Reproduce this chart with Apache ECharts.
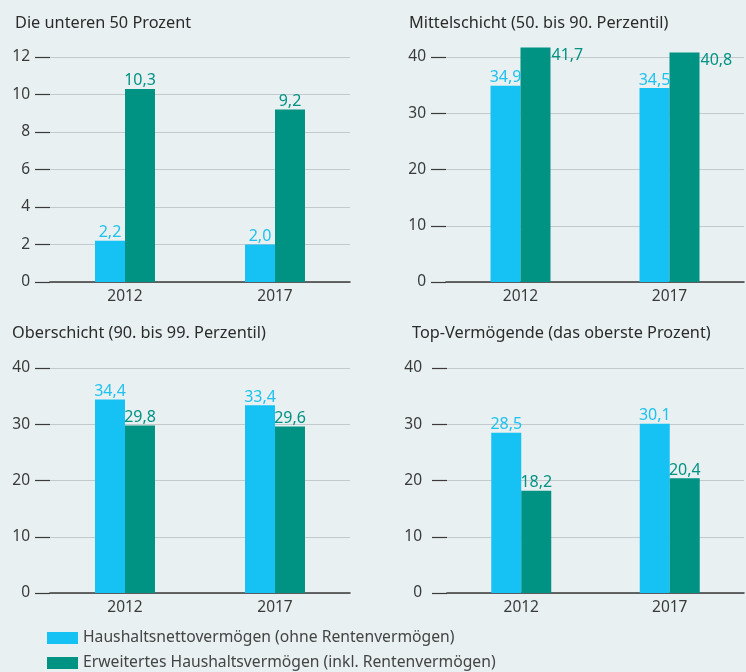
<!DOCTYPE html>
<html lang="de">
<head>
<meta charset="UTF-8">
<title>Vermögensanteile 2012 und 2017</title>
<script src="https://cdn.jsdelivr.net/npm/echarts@6/dist/echarts.min.js"></script>
<style>
  html, body { margin: 0; padding: 0; background: #e8f0f1; }
  #chart { width: 746px; height: 672px; }
</style>
</head>
<body>
<div id="chart"></div>
<script>
    const years = ['2012', '2017'];
    const seriesNames = ['Haushaltsnettovermögen (ohne Rentenvermögen)', 'Erweitertes Haushaltsvermögen (inkl. Rentenvermögen)'];
    const panelTitles = ['Die unteren 50 Prozent', 'Mittelschicht (50. bis 90. Perzentil)', 'Oberschicht (90. bis 99. Perzentil)', 'Top-Vermögende (das oberste Prozent)'];

    // pro Panel: [ohne Rente, inkl. Rente]
    const unten50 = [[2.2, 2.0], [10.3, 9.2]];
    const mitte = [[34.9, 34.5], [41.7, 40.8]];
    const ober = [[34.4, 33.4], [29.8, 29.6]];
    const top1 = [[28.5, 30.1], [18.2, 20.4]];
    const panelData = [unten50, mitte, ober, top1];

    const yMax = [12, 40, 40, 40];
    const yStep = [2, 10, 10, 10];

    const colors = ['#16c1f3', '#009283'];
    const labelColors = ['#1fc1ee', '#009283'];
    const font = 'Noto Sans';

    // layout of the four panels
    const grids = [
        {left: 50, width: 300, top: 57, height: 225},
        {left: 446, width: 298, top: 57, height: 225},
        {left: 50, width: 300, top: 368, height: 225},
        {left: 447, width: 297, top: 368, height: 225}
    ];
    const titlePos = [[15, 15], [409, 15], [12, 325], [412, 325]];
    const labelMargin = [20, 20, 20, 25];

    let chart = echarts.init(document.getElementById('chart'));

    let fmt = v => v.toFixed(1).replace('.', ',');

    let xAxis = [], yAxis = [], series = [], title = [];

    panelData.forEach((pd, i) => {
        title.push({
            text: panelTitles[i],
            left: titlePos[i][0],
            top: titlePos[i][1],
            padding: 0,
            textStyle: {fontFamily: font, fontSize: 16.3, fontWeight: 'normal', color: '#2b2b2b'}
        });
        xAxis.push({
            type: 'category',
            gridIndex: i,
            data: years,
            axisLine: {lineStyle: {color: '#3a3a3a', width: 1.5}},
            axisTick: {show: false},
            axisLabel: {fontFamily: font, fontSize: 15.5, color: '#3a3a3a', margin: 7}
        });
        yAxis.push({
            type: 'value',
            gridIndex: i,
            min: 0,
            max: yMax[i],
            interval: yStep[i],
            axisLine: {show: false},
            axisTick: {show: true, length: 15, lineStyle: {color: '#3a3a3a', width: 1.2}},
            axisLabel: {fontFamily: font, fontSize: 15.5, color: '#3a3a3a', margin: labelMargin[i]},
            splitLine: {lineStyle: {color: '#c3c9cc', width: 1}}
        });
        pd.forEach((vals, s) => {
            let label = {
                show: true,
                position: 'top',
                distance: 0,
                fontFamily: font,
                fontSize: 16,
                color: labelColors[s],
                formatter: p => fmt(p.value)
            };
            // Mittelschicht: teal labels sit right of the bar
            if (i === 1 && s === 1) {
                label.position = [31, 0];
                label.align = 'left';
                label.verticalAlign = 'top';
            }
            series.push({
                name: seriesNames[s],
                type: 'bar',
                xAxisIndex: i,
                yAxisIndex: i,
                data: vals,
                barWidth: 30,
                barGap: '0%',
                clip: false,
                itemStyle: {color: colors[s]},
                label
            });
        });
    });

    let option = {
        backgroundColor: '#e8f0f1',
        animation: false,
        title,
        grid: grids,
        xAxis,
        yAxis,
        legend: {
            data: seriesNames,
            orient: 'vertical',
            left: 47,
            top: 630,
            itemWidth: 31,
            itemHeight: 12,
            itemGap: 9,
            icon: 'rect',
            padding: 0,
            textStyle: {fontFamily: font, fontSize: 15.7, color: '#444'}
        },
        series
    };

    chart.setOption(option);
</script>
</body>
</html>
